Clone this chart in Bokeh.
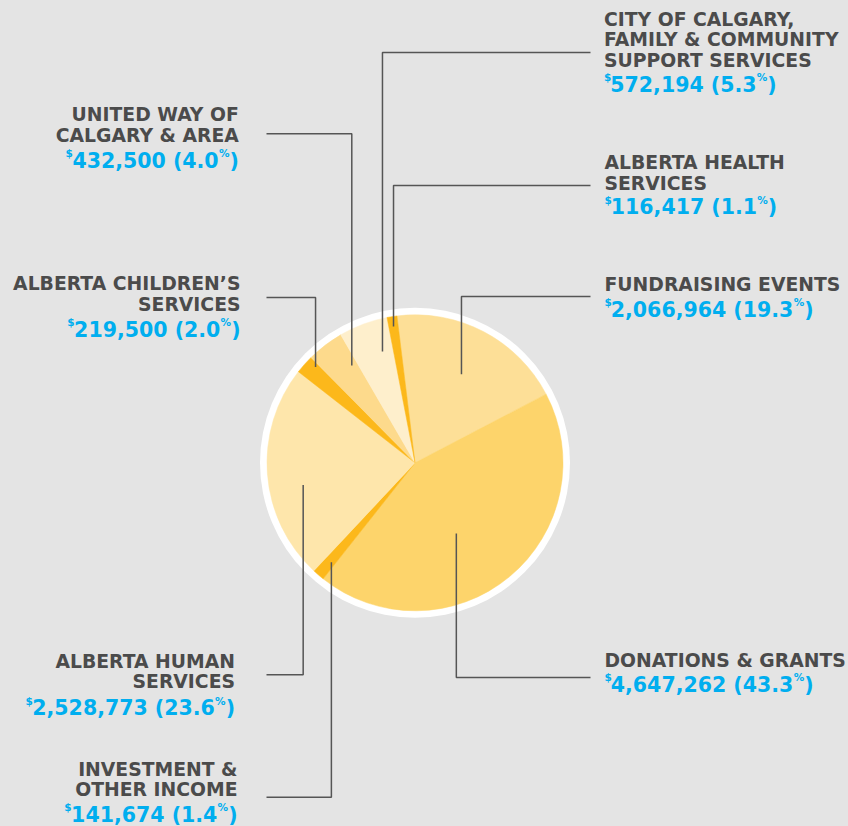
import numpy as np
from bokeh.plotting import figure
from bokeh.models import Range1d, ColumnDataSource
from bokeh.embed import file_html
from bokeh.resources import INLINE
from bokeh.core.properties import value

# ---------------- data ----------------
categories = [
    "FUNDRAISING EVENTS",
    "DONATIONS & GRANTS",
    "INVESTMENT & OTHER INCOME",
    "ALBERTA HUMAN SERVICES",
    "ALBERTA CHILDREN’S SERVICES",
    "UNITED WAY OF CALGARY & AREA",
    "CITY OF CALGARY, FAMILY & COMMUNITY SUPPORT SERVICES",
    "ALBERTA HEALTH SERVICES",
]
label_lines = [
    ["FUNDRAISING EVENTS"],
    ["DONATIONS & GRANTS"],
    ["INVESTMENT &", "OTHER INCOME"],
    ["ALBERTA HUMAN", "SERVICES"],
    ["ALBERTA CHILDREN’S", "SERVICES"],
    ["UNITED WAY OF", "CALGARY & AREA"],
    ["CITY OF CALGARY,", "FAMILY & COMMUNITY", "SUPPORT SERVICES"],
    ["ALBERTA HEALTH", "SERVICES"],
]
amounts = [2066964, 4647262, 141674, 2528773, 219500, 432500, 572194, 116417]
pct_labels = ["19.3", "43.3", "1.4", "23.6", "2.0", "4.0", "5.3", "1.1"]

# ---------------- style ----------------
BG = "#e4e4e4"
slice_colors = ["#fddf97", "#fdd46b", "#fcb81b", "#fee6ab", "#fcb81b", "#fdda8c", "#feefcc", "#fcb81b"]
GRAY = "#4b4b4b"
CYAN = "#00aeef"
LEADER = "#555555"
FONT = "DejaVu Sans"

CX, CY = 414.5, -462.3
R_PIE = 148
R_RING = 155
START_CW = -7.0  # degrees clockwise from 12 o'clock
TEXT_DY = -6.5   # renderer baseline correction

# side, x anchor, gray baselines, value baseline, leader y, frac in slice, anchor radius
layout = [
    ("R", 604.0, [290.0], 315.5, 296.0, 0.5, 100),
    ("R", 604.0, [666.7], 690.5, 677.0, 0.56, 82),
    ("L", 237.0, [775.7, 795.7], 820.7, 796.7, 0.35, 130),
    ("L", 234.5, [667.3, 687.3], 714.0, 674.3, 0.42, 114),
    ("L", 240.0, [289.0, 310.5], 335.5, 297.0, 0.8, 138),
    ("L", 238.3, [120.7, 141.7], 166.7, 133.3, 0.8, 116),
    ("R", 603.5, [25.0, 45.7, 66.7], 90.7, 52.0, 0.72, 116),
    ("R", 604.0, [168.0, 189.0], 213.0, 185.0, 0.5, 138),
]

LABEL_SIZE = 18.8
VALUE_SIZE = 20.5
SUP_SIZE = 10.5
# DejaVu Sans Bold advance widths (em)
ADV = {",": 0.380, ".": 0.380, " ": 0.348, "(": 0.457, ")": 0.457, "$": 0.696, "%": 1.002}
for d in "0123456789":
    ADV[d] = 0.696


def text_width(s, size):
    return sum(ADV.get(c, 0.6) for c in s) * size


# ---------------- figure ----------------
W, H = 848, 826
p = figure(width=W, height=H, x_range=Range1d(0, W), y_range=Range1d(-H, 0),
           output_backend="svg", toolbar_location=None, min_border=0)
p.axis.visible = False
p.grid.visible = False
p.outline_line_color = None
p.background_fill_color = BG
p.border_fill_color = BG

# white ring
p.circle(x=[CX], y=[CY], radius=R_RING, fill_color="white", line_color=None)

vals = np.array(amounts, dtype=float)
frac = vals / vals.sum()
cw_end = START_CW + np.cumsum(frac) * 360.0
cw_start = cw_end - frac * 360.0
src = ColumnDataSource(dict(
    cat=categories,
    start=np.radians(90.0 - cw_start),
    end=np.radians(90.0 - cw_end),
    color=slice_colors,
))
p.wedge(x=CX, y=CY, radius=R_PIE, start_angle="start", end_angle="end", direction="clock",
        fill_color="color", line_color="color", line_width=0.5, source=src)

# leader lines
xs, ys = [], []
for i, (side, tx, bl, vb, ly, fr, rr) in enumerate(layout):
    ang = np.radians(cw_start[i] + fr * (cw_end[i] - cw_start[i]))
    ax = CX + rr * np.sin(ang)
    ay = CY + rr * np.cos(ang)
    xend = 590.0 if side == "R" else 266.0
    xs.append([ax, ax, xend])
    ys.append([ay, -ly, -ly])
p.multi_line(xs=xs, ys=ys, line_color=LEADER, line_width=1.5)

# texts
T = dict(text=[], x=[], y=[], align=[], size=[], color=[])


def add(t, x, y, align, size, color):
    T["text"].append(t)
    T["x"].append(x)
    T["y"].append(-(y + TEXT_DY))
    T["align"].append(align)
    T["size"].append(f"{size}px")
    T["color"].append(color)


for i, (side, tx, bl, vb, ly, fr, rr) in enumerate(layout):
    align = "left" if side == "R" else "right"
    for line, b in zip(label_lines[i], bl):
        add(line, tx, b, align, LABEL_SIZE, GRAY)
    main = f"{amounts[i]:,} ({pct_labels[i]}"
    wm = text_width(main, VALUE_SIZE)
    wp = text_width(")", VALUE_SIZE)
    wpct = text_width("%", SUP_SIZE)
    sb = vb - 7.4
    if side == "R":
        x0 = tx
        add("$", x0, sb, "left", SUP_SIZE, CYAN)
        xm = x0 + 6.3
        add(main, xm, vb, "left", VALUE_SIZE, CYAN)
        add("%", xm + wm + 0.3, sb, "left", SUP_SIZE, CYAN)
        add(")", xm + wm + 0.3 + wpct, vb, "left", VALUE_SIZE, CYAN)
    else:
        x1 = tx
        add(")", x1, vb, "right", VALUE_SIZE, CYAN)
        add("%", x1 - wp, sb, "right", SUP_SIZE, CYAN)
        xm = x1 - wp - wpct - 0.3
        add(main, xm, vb, "right", VALUE_SIZE, CYAN)
        add("$", xm - wm + 0.5, sb, "right", SUP_SIZE, CYAN)

tsrc = ColumnDataSource(T)
p.text(x="x", y="y", text="text", source=tsrc, text_align="align", text_baseline="alphabetic",
       text_font=value(FONT), text_font_style="bold", text_font_size="size", text_color="color")

html = file_html(p, INLINE)
html = html.replace("</head>",
                    f"<style>html,body{{background:{BG};margin:0;padding:0;overflow:hidden;}}</style></head>", 1)
open("out.html", "w").write(html)
